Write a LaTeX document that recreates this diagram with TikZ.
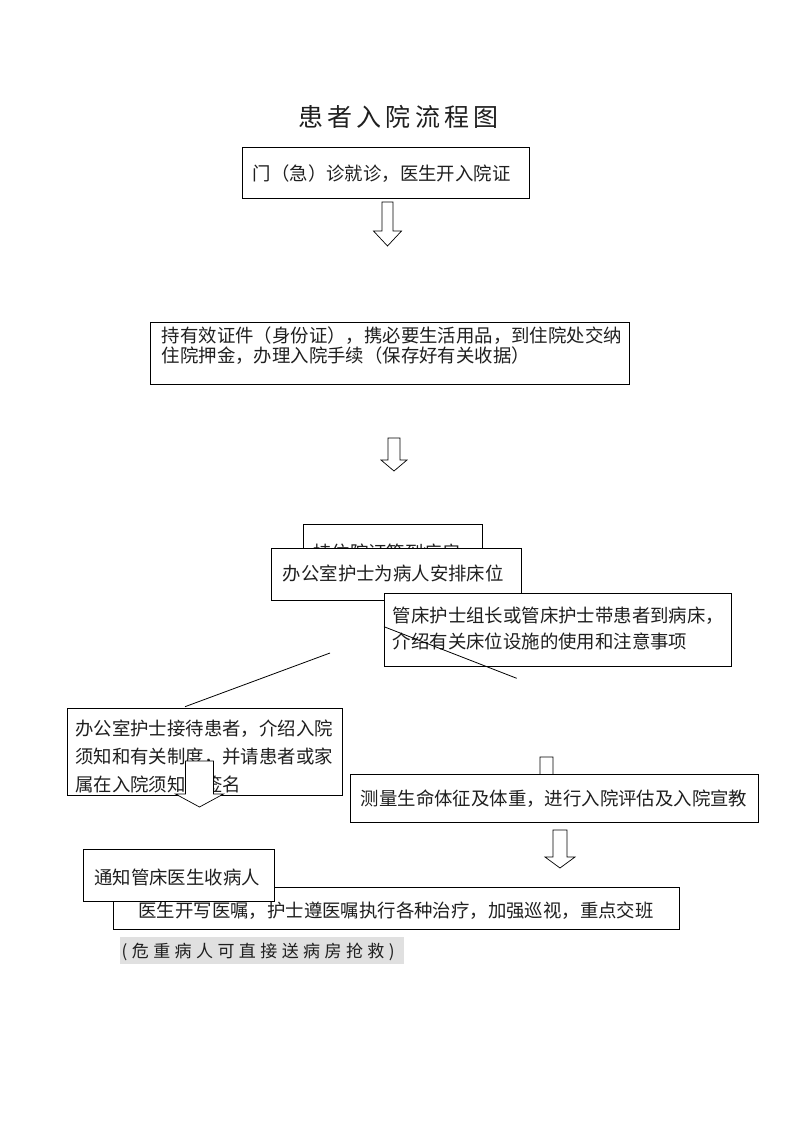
\documentclass[tikz,border=0pt]{standalone}
\usepackage{fontspec}
\newfontfamily\cjk{Noto Sans CJK SC}
\newfontfamily\cjktitle[LetterSpace=17]{Noto Sans CJK SC}
\newfontfamily\cjknote[LetterSpace=26]{Noto Sans CJK SC}
\newcommand{\harrowdraw}[6]{% cx, top, shaft width, head top, head width, tip
  \draw[harrow] ({#1-#3/2},#2) -- ({#1+#3/2},#2) -- ({#1+#3/2},#4) -- ({#1+#5/2},#4)
    -- (#1,#6) -- ({#1-#5/2},#4) -- ({#1-#3/2},#4) -- cycle;}
\begin{document}
\begin{tikzpicture}[x=1pt,y=-1pt,
  box/.style={draw=black, line width=0.8pt, fill=white, inner sep=0pt, anchor=north west},
  txt/.style={inner sep=0pt, anchor=west, align=left, text=black!88,
              font=\cjk\fontsize{18.4}{20}\selectfont},
  harrow/.style={draw=black, line width=0.7pt, fill=white, line join=miter},
  thinline/.style={draw=black, line width=0.8pt}]

\useasboundingbox[fill=white] (0,0) rectangle (793,1122);

% title
\node[inner sep=0pt, anchor=west, text=black!88, font=\cjktitle\fontsize{25}{28}\selectfont] (title) at (298,117) {患者入院流程图};

% box 1
\node[box, minimum width=287.3pt, minimum height=51.6pt] (b1) at (241.7,146.7) {};
\node[txt] (t1) at (252.7,173.5) {门（急）诊就诊，医生开入院证};
\harrowdraw{387.5}{202}{11}{231}{28}{246}

% box 2
\node[box, minimum width=479pt, minimum height=62.5pt] (b2) at (150,321.5) {};
\node[txt, font=\cjk\fontsize{18.4}{19.5}\selectfont] (t2) at (161.7,345.5)
  {持有效证件（身份证），携必要生活用品，到住院处交纳\\住院押金，办理入院手续（保存好有关收据）};
\harrowdraw{394}{438}{12}{460}{26}{471}

% hidden box behind box 3
\node[box, minimum width=179pt, minimum height=40pt] (b0) at (302.5,524.3) {};
\node[txt] (t0) at (313,552) {持住院证等到病房};

% box 3
\node[box, minimum width=250.3pt, minimum height=51.7pt] (b3) at (270.7,548.3) {};
\node[txt] (t3) at (282.7,573) {办公室护士为病人安排床位};

% box 4
\node[box, minimum width=346.7pt, minimum height=72.4pt] (b4) at (384,593.3) {};
\node[txt, font=\cjk\fontsize{18.4}{26.5}\selectfont] (t4) at (392.7,628.3)
  {管床护士组长或管床护士带患者到病床，\\介绍有关床位设施的使用和注意事项};

% free lines
\coordinate (la1) at (330,653);
\coordinate (la2) at (185,706.7);
\coordinate (lb1) at (384,626.7);
\coordinate (lb2) at (516.7,678.3);
\draw[thinline] (la1) -- (la2);
\draw[thinline] (lb1) -- (lb2);

% box 5
\node[box, minimum width=275pt, minimum height=86.7pt] (b5) at (66.7,708.3) {};
\node[txt, font=\cjk\fontsize{18.4}{28}\selectfont] (t5) at (75,756)
  {办公室护士接待患者，介绍入院\\须知和有关制度，并请患者或家\\属在入院须知上签名};
\harrowdraw{199.5}{761}{28}{794}{48}{807}

% small arrow hidden by box 6
\harrowdraw{546.5}{757}{13}{790}{26}{800}

% box 6
\node[box, minimum width=408.3pt, minimum height=47.7pt] (b6) at (350,774) {};
\node[txt] (t6) at (360.7,799) {测量生命体征及体重，进行入院评估及入院宣教};
\harrowdraw{560}{830}{14}{857}{30}{868}

% box 7
\node[box, minimum width=566.6pt, minimum height=42.3pt] (b7) at (112.7,886.7) {};
\node[txt] (t7) at (138.3,910.5) {医生开写医嘱，护士遵医嘱执行各种治疗，加强巡视，重点交班};

% box 8
\node[box, minimum width=190.7pt, minimum height=51.7pt] (b8) at (83.3,849.3) {};
\node[txt] (t8) at (94,877) {通知管床医生收病人};

% grey note
\node[fill=black!12, inner sep=0pt, minimum width=283.3pt, minimum height=27.3pt, anchor=north west] (nbg) at (120,936.7) {};
\node[txt, font=\cjknote\fontsize{17}{20}\selectfont] (note) at (121.5,951.5) {(危重病人可直接送病房抢救)};

\end{tikzpicture}
\end{document}
